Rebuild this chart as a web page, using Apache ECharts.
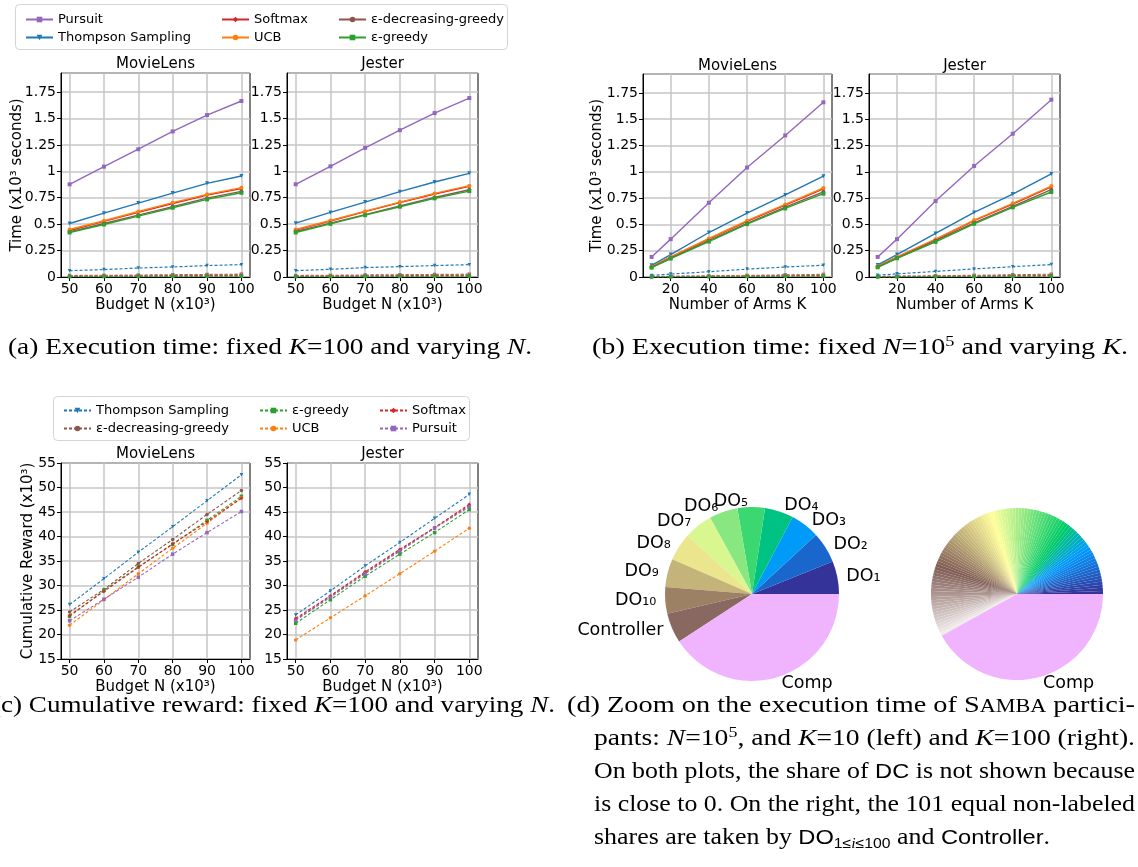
<!DOCTYPE html>
<html><head><meta charset="utf-8">
<script src="https://cdn.jsdelivr.net/npm/echarts@6/dist/echarts.min.js"></script>
<style>html,body{margin:0;padding:0;background:#fff}#c{width:1138px;height:867px}</style>
</head><body><div id="c"></div>
<script>
// ---------------- DATA ----------------
const budgetN = [50, 60, 70, 80, 90, 100];
const armsK = [10, 20, 40, 60, 80, 100];
const budgetTicks = [50, 60, 70, 80, 90, 100];
const armsTicks = [20, 40, 60, 80, 100];

// (a) execution time vs N, MovieLens (solid = total, dotted = near-zero share)
const aML_pursuit  = [0.877, 1.044, 1.209, 1.377, 1.532, 1.665];
const aML_thompson = [0.506, 0.604, 0.699, 0.794, 0.886, 0.956];
const aML_softmax  = [0.440, 0.526, 0.612, 0.695, 0.775, 0.836];
const aML_ucb      = [0.449, 0.532, 0.620, 0.703, 0.782, 0.845];
const aML_edecr    = [0.426, 0.506, 0.586, 0.666, 0.746, 0.810];
const aML_egreedy  = [0.421, 0.497, 0.576, 0.655, 0.734, 0.797];
const aML_dot_pursuit  = [0.014, 0.016, 0.018, 0.021, 0.024, 0.027];
const aML_dot_thompson = [0.060, 0.070, 0.085, 0.095, 0.108, 0.117];
const aML_dot_softmax  = [0.010, 0.012, 0.014, 0.016, 0.019, 0.021];
const aML_dot_ucb      = [0.009, 0.011, 0.013, 0.015, 0.017, 0.019];
const aML_dot_edecr    = [0.006, 0.007, 0.009, 0.010, 0.012, 0.014];
const aML_dot_egreedy  = [0.003, 0.004, 0.005, 0.006, 0.007, 0.008];
// (a) Jester
const aJE_pursuit  = [0.877, 1.047, 1.222, 1.389, 1.551, 1.693];
const aJE_thompson = [0.509, 0.611, 0.709, 0.807, 0.899, 0.981];
const aJE_softmax  = [0.445, 0.530, 0.618, 0.703, 0.785, 0.857];
const aJE_ucb      = [0.449, 0.535, 0.623, 0.709, 0.791, 0.864];
const aJE_edecr    = [0.430, 0.510, 0.590, 0.672, 0.752, 0.825];
const aJE_egreedy  = [0.421, 0.503, 0.585, 0.665, 0.744, 0.813];
const aJE_dot_pursuit  = [0.014, 0.016, 0.019, 0.021, 0.024, 0.027];
const aJE_dot_thompson = [0.060, 0.073, 0.089, 0.098, 0.108, 0.117];
const aJE_dot_softmax  = [0.010, 0.012, 0.014, 0.017, 0.019, 0.021];
const aJE_dot_ucb      = [0.009, 0.011, 0.013, 0.015, 0.017, 0.019];
const aJE_dot_edecr    = [0.006, 0.007, 0.009, 0.010, 0.012, 0.014];
const aJE_dot_egreedy  = [0.003, 0.004, 0.005, 0.006, 0.007, 0.008];

// (b) execution time vs K, MovieLens
const bML_pursuit  = [0.191, 0.360, 0.706, 1.041, 1.346, 1.661];
const bML_thompson = [0.111, 0.213, 0.423, 0.608, 0.780, 0.958];
const bML_softmax  = [0.097, 0.188, 0.360, 0.528, 0.683, 0.838];
const bML_ucb      = [0.099, 0.191, 0.366, 0.535, 0.690, 0.846];
const bML_edecr    = [0.092, 0.180, 0.345, 0.510, 0.665, 0.810];
const bML_egreedy  = [0.089, 0.175, 0.337, 0.503, 0.652, 0.792];
const bML_dot_pursuit  = [0.004, 0.006, 0.010, 0.015, 0.020, 0.025];
const bML_dot_thompson = [0.015, 0.028, 0.050, 0.075, 0.095, 0.112];
const bML_dot_softmax  = [0.003, 0.005, 0.008, 0.012, 0.015, 0.019];
const bML_dot_ucb      = [0.003, 0.004, 0.008, 0.011, 0.014, 0.018];
const bML_dot_edecr    = [0.002, 0.003, 0.005, 0.007, 0.009, 0.012];
const bML_dot_egreedy  = [0.001, 0.002, 0.004, 0.005, 0.007, 0.009];
// (b) Jester
const bJE_pursuit  = [0.191, 0.360, 0.722, 1.056, 1.362, 1.686];
const bJE_thompson = [0.115, 0.213, 0.414, 0.614, 0.789, 0.980];
const bJE_softmax  = [0.100, 0.188, 0.355, 0.535, 0.692, 0.857];
const bJE_ucb      = [0.102, 0.191, 0.360, 0.541, 0.700, 0.865];
const bJE_edecr    = [0.095, 0.180, 0.345, 0.515, 0.672, 0.830];
const bJE_egreedy  = [0.092, 0.178, 0.334, 0.506, 0.662, 0.808];
const bJE_dot_pursuit  = [0.004, 0.007, 0.011, 0.016, 0.021, 0.026];
const bJE_dot_thompson = [0.016, 0.030, 0.053, 0.077, 0.098, 0.118];
const bJE_dot_softmax  = [0.003, 0.005, 0.008, 0.012, 0.016, 0.020];
const bJE_dot_ucb      = [0.003, 0.004, 0.008, 0.011, 0.015, 0.018];
const bJE_dot_edecr    = [0.002, 0.003, 0.005, 0.007, 0.010, 0.012];
const bJE_dot_egreedy  = [0.001, 0.002, 0.004, 0.005, 0.007, 0.009];

// (c) cumulative reward vs N
const cML_thompson = [26.1, 31.4, 36.8, 42.0, 47.3, 52.6];
const cML_edecr    = [24.6, 29.2, 34.5, 39.4, 44.5, 49.4];
const cML_egreedy  = [23.7, 29.0, 33.8, 38.4, 43.3, 48.2];
const cML_ucb      = [21.9, 27.1, 32.4, 37.6, 42.7, 47.9];
const cML_softmax  = [23.9, 28.8, 33.7, 38.5, 43.0, 47.8];
const cML_pursuit  = [22.8, 27.2, 31.7, 36.4, 40.8, 45.1];
const cJE_thompson = [24.0, 28.9, 34.0, 38.8, 43.7, 48.6];
const cJE_edecr    = [23.0, 27.8, 32.6, 37.2, 41.8, 46.3];
const cJE_egreedy  = [22.3, 27.1, 31.9, 36.4, 40.8, 45.5];
const cJE_ucb      = [18.9, 23.4, 27.9, 32.4, 37.0, 41.7];
const cJE_softmax  = [23.3, 27.9, 32.8, 37.4, 41.8, 46.6];
const cJE_pursuit  = [22.9, 27.6, 32.4, 37.0, 41.7, 46.05];

// (d) pies
const pieLeftNames  = ['DO₁','DO₂','DO₃','DO₄','DO₅','DO₆','DO₇','DO₈','DO₉','DO₁₀','Controller','Comp'];
const pieLeftValues = [6.1, 5.75, 5.4, 5.35, 5.1, 5.3, 5.3, 5.15, 5.25, 4.95, 5.55, 40.8];
const pieRightShares = [1,1,1,1,1,1,1,1,1,1, 1,1,1,1,1,1,1,1,1,1, 1,1,1,1,1,1,1,1,1,1, 1,1,1,1,1,1,1,1,1,1,
  1,1,1,1,1,1,1,1,1,1, 1,1,1,1,1,1,1,1,1,1, 1,1,1,1,1,1,1,1,1,1, 1,1,1,1,1,1,1,1,1,1,
  1,1,1,1,1,1,1,1,1,1, 1,1,1,1,1,1,1,1,1,1, 1];
const pieRightComp = 73;

// ---------------- STYLE ----------------
const COL = {Pursuit:'#9467bd', Thompson:'#1f77b4', Softmax:'#d62728', UCB:'#ff7f0e', Edecr:'#8c564b', Egreedy:'#2ca02c'};
const NAME = {Pursuit:'Pursuit', Thompson:'Thompson Sampling', Softmax:'Softmax', UCB:'UCB', Edecr:'ε-decreasing-greedy', Egreedy:'ε-greedy'};
const SYM = {Pursuit:'rect', Thompson:'path://M0,0L10,0L5,9Z', Softmax:'diamond', UCB:'circle', Edecr:'circle', Egreedy:'rect'};
const FONT = 'DejaVu Sans';

function terrain(t){
  const st=[[0,[.2,.2,.6]],[.15,[0,.6,1]],[.25,[0,.8,.4]],[.5,[1,1,.6]],[.75,[.5,.36,.33]],[1,[1,1,1]]];
  for(let k=1;k<st.length;k++){ if(t<=st[k][0]){ const t0=st[k-1][0],c0=st[k-1][1],t1=st[k][0],c1=st[k][1]; const f=(t-t0)/(t1-t0);
    return 'rgb('+c0.map((c,j)=>Math.round(255*(c+(c1[j]-c)*f))).join(',')+')'; } }
  return '#fff';
}

const gridBoxes = [
  {left:61,  top:73,  width:189, height:204},
  {left:287, top:73,  width:191, height:204},
  {left:643, top:74,  width:189, height:203},
  {left:869, top:74,  width:191, height:203},
  {left:61,  top:463, width:189, height:196},
  {left:287, top:463, width:191, height:196}
];
const grids = gridBoxes.map(g => Object.assign({show:true, borderColor:'#000', borderWidth:1, backgroundColor:'transparent', containLabel:false}, g));

const axisCommon = {
  axisLine:{show:true, onZero:false, lineStyle:{color:'#000', width:1}},
  axisTick:{show:true, length:4, lineStyle:{color:'#000'}},
  axisLabel:{fontFamily:FONT, fontSize:14, color:'#000', margin:5},
  splitLine:{show:true, lineStyle:{color:'#c6c6c6', width:1.5}},
  nameTextStyle:{fontFamily:FONT, fontSize:15, color:'#000'}
};
function xAxisFor(gi, min, max, ticks, name){
  return Object.assign({}, axisCommon, {gridIndex:gi, type:'value', min, max, name, nameLocation:'middle', nameGap:21,
    axisTick:Object.assign({}, axisCommon.axisTick, {customValues:ticks}),
    axisLabel:Object.assign({}, axisCommon.axisLabel, {customValues:ticks})});
}
function yAxisFor(gi, min, max, interval, showMax){
  return Object.assign({}, axisCommon, {gridIndex:gi, type:'value', min, max, interval,
    axisLabel:Object.assign({}, axisCommon.axisLabel, {showMaxLabel:!!showMax})});
}
const xAxes = [
  xAxisFor(0, 47.5, 102.5, budgetTicks, 'Budget N (x10³)'),
  xAxisFor(1, 47.5, 102.5, budgetTicks, 'Budget N (x10³)'),
  xAxisFor(2, 5.5, 104.5, armsTicks, 'Number of Arms K'),
  xAxisFor(3, 5.5, 104.5, armsTicks, 'Number of Arms K'),
  xAxisFor(4, 47.5, 102.5, budgetTicks, 'Budget N (x10³)'),
  xAxisFor(5, 47.5, 102.5, budgetTicks, 'Budget N (x10³)')
];
const yAxes = [
  yAxisFor(0, 0, 1.93, 0.25), yAxisFor(1, 0, 1.93, 0.25),
  yAxisFor(2, 0, 1.93, 0.25), yAxisFor(3, 0, 1.93, 0.25),
  yAxisFor(4, 15, 55, 5, true), yAxisFor(5, 15, 55, 5, true)
];

function line(key, xs, ys, gi, opts){
  opts = opts || {};
  const c = COL[key];
  return {type:'line', name: opts.name || NAME[key], xAxisIndex:gi, yAxisIndex:gi,
    data: xs.map((x,i)=>[x, ys[i]]), symbol:SYM[key], symbolSize: opts.sym || 4, showSymbol:true,
    lineStyle:{color:c, width: opts.w || 1.4, type: opts.dash || 'solid'}, itemStyle:{color:c},
    animation:false, silent:true, z: opts.z || 2};
}
const series = [];
const keys = ['Pursuit','Thompson','Softmax','UCB','Edecr','Egreedy'];
const panelsAB = [
  [0, budgetN, {Pursuit:aML_pursuit, Thompson:aML_thompson, Softmax:aML_softmax, UCB:aML_ucb, Edecr:aML_edecr, Egreedy:aML_egreedy},
               {Pursuit:aML_dot_pursuit, Thompson:aML_dot_thompson, Softmax:aML_dot_softmax, UCB:aML_dot_ucb, Edecr:aML_dot_edecr, Egreedy:aML_dot_egreedy}],
  [1, budgetN, {Pursuit:aJE_pursuit, Thompson:aJE_thompson, Softmax:aJE_softmax, UCB:aJE_ucb, Edecr:aJE_edecr, Egreedy:aJE_egreedy},
               {Pursuit:aJE_dot_pursuit, Thompson:aJE_dot_thompson, Softmax:aJE_dot_softmax, UCB:aJE_dot_ucb, Edecr:aJE_dot_edecr, Egreedy:aJE_dot_egreedy}],
  [2, armsK,   {Pursuit:bML_pursuit, Thompson:bML_thompson, Softmax:bML_softmax, UCB:bML_ucb, Edecr:bML_edecr, Egreedy:bML_egreedy},
               {Pursuit:bML_dot_pursuit, Thompson:bML_dot_thompson, Softmax:bML_dot_softmax, UCB:bML_dot_ucb, Edecr:bML_dot_edecr, Egreedy:bML_dot_egreedy}],
  [3, armsK,   {Pursuit:bJE_pursuit, Thompson:bJE_thompson, Softmax:bJE_softmax, UCB:bJE_ucb, Edecr:bJE_edecr, Egreedy:bJE_egreedy},
               {Pursuit:bJE_dot_pursuit, Thompson:bJE_dot_thompson, Softmax:bJE_dot_softmax, UCB:bJE_dot_ucb, Edecr:bJE_dot_edecr, Egreedy:bJE_dot_egreedy}]
];
panelsAB.forEach(([gi, xs, solid, dotted]) => {
  keys.forEach((k,i) => series.push(line(k, xs, solid[k], gi, {z:2+i})));
  keys.forEach((k,i) => series.push(line(k, xs, dotted[k], gi, {name:'dot '+k, dash:[3,2], w:1.2, sym:3.5, z:2+i})));
});
const cKeys = ['Thompson','Edecr','Egreedy','UCB','Softmax','Pursuit'];
const panelsC = [
  [4, {Thompson:cML_thompson, Edecr:cML_edecr, Egreedy:cML_egreedy, UCB:cML_ucb, Softmax:cML_softmax, Pursuit:cML_pursuit}],
  [5, {Thompson:cJE_thompson, Edecr:cJE_edecr, Egreedy:cJE_egreedy, UCB:cJE_ucb, Softmax:cJE_softmax, Pursuit:cJE_pursuit}]
];
panelsC.forEach(([gi, d]) => cKeys.forEach((k,i) => series.push(line(k, budgetN, d[k], gi, {name:NAME[k]+' ', dash:[3,2], w:1.1, sym:3.5, z:2+i}))));

// pies
const pieLabel = {show:true, position:'outside', fontFamily:FONT, fontSize:17.5, color:'#000', alignTo:'none', distanceToLabelLine:3};
series.push({type:'pie', center:[752,594], radius:87, startAngle:0, clockwise:false, avoidLabelOverlap:false, animation:false, silent:true,
  label:pieLabel, labelLine:{show:false, length:6, length2:0}, labelLayout:{hideOverlap:false},
  itemStyle:{borderWidth:0},
  data: pieLeftNames.map((n,i)=>({name:n, value:pieLeftValues[i], itemStyle:{color: n==='Comp' ? '#f0b3fd' : terrain(i/13)}}))
});
series.push({type:'pie', center:[1017,594], radius:86, startAngle:0, clockwise:false, avoidLabelOverlap:false, animation:false, silent:true,
  label:pieLabel, labelLine:{show:false, length:6, length2:0}, labelLayout:{hideOverlap:false},
  itemStyle:{borderWidth:0},
  data: pieRightShares.map((v,i)=>({name: i<100 ? 'DO'+(i+1) : 'Controller', value:v, label:{show:false}, itemStyle:{color:terrain(i/103)}}))
        .concat([{name:'Comp', value:pieRightComp, itemStyle:{color:'#f0b3fd'}}])
});

// legends
const legText = {fontFamily:FONT, fontSize:13, color:'#000'};
function leg(names, left, top){
  return {data:names, orient:'vertical', left, top, itemWidth:27, itemHeight:7, itemGap:5, textStyle:legText,
    selectedMode:false};
}
const legends = [
  leg(['Pursuit','Thompson Sampling'], 20, 8),
  leg(['Softmax','UCB'], 216, 8),
  leg(['ε-decreasing-greedy','ε-greedy'], 333, 8),
  leg(['Thompson Sampling ','ε-decreasing-greedy '], 58, 399),
  leg(['ε-greedy ','UCB '], 254, 399),
  leg(['Softmax ','Pursuit '], 374, 399)
];

// captions (each line is fitted to its measured width in the reference, like LaTeX justification)
const SER = 'Liberation Serif', CFS = 23;
const rich = {
  r:{fontFamily:SER, fontSize:CFS, color:'#000', lineHeight:28},
  i:{fontFamily:SER, fontSize:CFS, fontStyle:'italic', color:'#000', lineHeight:28},
  sc:{fontFamily:SER, fontSize:18, color:'#000', lineHeight:28, padding:[3,0,0,0]},
  sup:{fontFamily:SER, fontSize:15, color:'#000', lineHeight:28, padding:[0,0,12,0]},
  sf:{fontFamily:'Liberation Sans', fontSize:21, color:'#000', lineHeight:28},
  sub:{fontFamily:'Liberation Sans', fontSize:14, color:'#000', lineHeight:28, padding:[12,0,0,0]},
  subi:{fontFamily:SER, fontStyle:'italic', fontSize:14, color:'#000', lineHeight:28, padding:[12,0,0,0]}
};
const mctx = document.createElement('canvas').getContext('2d');
function richWidth(str){
  let w = 0; const re = /\{(\w+)\|([^}]*)\}/g; let m;
  while((m = re.exec(str))){ const s = rich[m[1]];
    mctx.font = (s.fontStyle||'normal') + ' ' + s.fontSize + 'px "' + s.fontFamily + '"';
    w += mctx.measureText(m[2]).width; }
  return w;
}
function cap(x, y, text, targetW){
  const sx = targetW / richWidth(text);
  return {type:'text', x, y, scaleX: sx, style:{text, rich, verticalAlign:'middle', align:'left'}, silent:true, z:10};
}
function title(cx, cy, t){
  return {type:'text', x:cx, y:cy, style:{text:t, fontFamily:FONT, fontSize:15, fill:'#000', align:'center', verticalAlign:'middle'}, silent:true, z:10};
}
function yName(cx, gi, t){
  const g = gridBoxes[gi];
  return {type:'text', x:cx, y:g.top + g.height/2, rotation:Math.PI/2,
    style:{text:t, fontFamily:FONT, fontSize:15, fill:'#000', align:'center', verticalAlign:'middle'}, silent:true, z:10};
}
const dLines = [
  '{r|(d) Zoom on the execution time of S}{sc|AMBA}{r| partici-}',
  '{r|pants: }{i|N}{r|=10}{sup|5}{r|, and }{i|K}{r|=10 (left) and }{i|K}{r|=100 (right).}',
  '{r|On both plots, the share of }{sf|DC}{r| is not shown because}',
  '{r|is close to 0. On the right, the 101 equal non-labeled}',
  '{r|shares are taken by }{sf|DO}{sub|1≤}{subi|i}{sub|≤100}{r| and }{sf|Controller}{r|.}'
];
const graphics = [
  {type:'rect', shape:{x:15.5, y:4.5, width:492, height:45, r:4}, style:{fill:'#fff', stroke:'#d4d4d4', lineWidth:1}, z:0, silent:true},
  {type:'rect', shape:{x:53.5, y:396.5, width:416, height:44, r:4}, style:{fill:'#fff', stroke:'#d4d4d4', lineWidth:1}, z:0, silent:true},
  title(155.5, 64, 'MovieLens'), title(382.5, 64, 'Jester'),
  title(737.5, 66, 'MovieLens'), title(964.5, 66, 'Jester'),
  title(155.5, 454, 'MovieLens'), title(382.5, 454, 'Jester'),
  yName(17, 0, 'Time (x10³ seconds)'),
  yName(597, 2, 'Time (x10³ seconds)'),
  yName(28, 4, 'Cumulative Reward (x10³)'),
  cap(8, 348, '{r|(a) Execution time: fixed }{i|K}{r|=100 and varying }{i|N}{r|.}', 524),
  cap(592, 348, '{r|(b) Execution time: fixed }{i|N}{r|=10}{sup|5}{r| and varying }{i|K}{r|.}', 536),
  cap(-8, 706, '{r|(c) Cumulative reward: fixed }{i|K}{r|=100 and varying }{i|N}{r|.}', 563),
  cap(567, 706, dLines[0], 568),
  cap(594, 739, dLines[1], 541),
  cap(594, 772, dLines[2], 541),
  cap(594, 805, dLines[3], 541),
  cap(594, 838, dLines[4], 456)
];

const chart = echarts.init(document.getElementById('c'), null, {renderer:'canvas'});
chart.setOption({
  backgroundColor:'#fff', animation:false,
  grid: grids, xAxis: xAxes, yAxis: yAxes, series, legend: legends, graphic: graphics
});
</script></body></html>
